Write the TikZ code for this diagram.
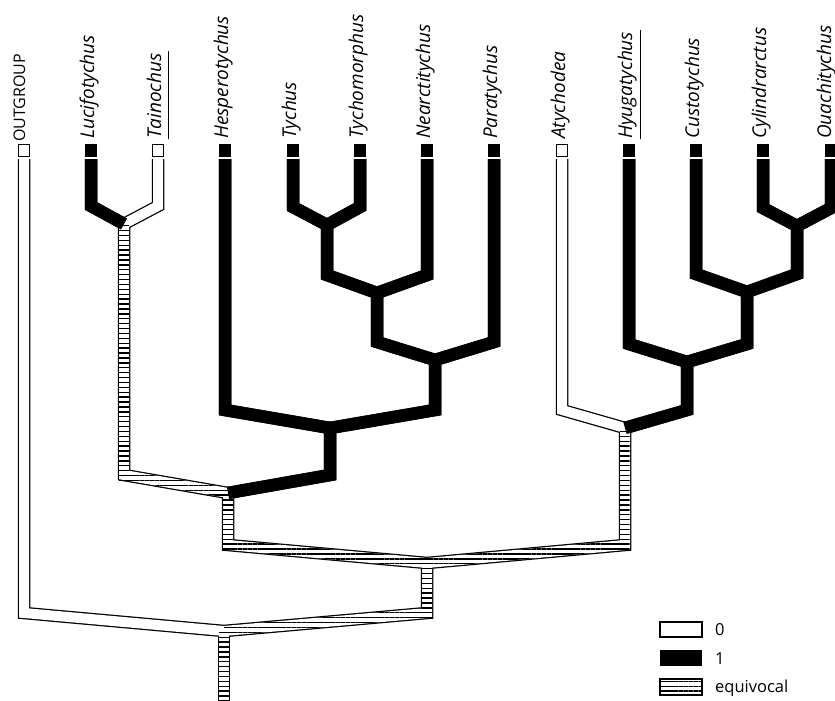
\documentclass[tikz,border=0pt]{standalone}
\usepackage{fontspec}
\setmainfont{Open Sans}
\usetikzlibrary{calc,patterns.meta}

\tikzset{
  outer/.style={line width=12.5pt,line join=miter,black},
  inner/.style={line width=10pt,line join=miter,white},
  hatch/.style={pattern={Lines[angle=0,distance=4.9pt,line width=1.4pt]}},
  taxon/.style={rotate=90,anchor=base west,inner sep=0pt,font=\fontsize{19}{19}\selectfont\itshape},
  tipzero/.style={draw=black,line width=1.2pt,fill=white},
  tipone/.style={fill=black},
  keytext/.style={anchor=west,inner sep=0pt,font=\fontsize{16.5}{16.5}\selectfont},
}
\newcommand{\branch}[3]{\draw[#1] let \p1=(#2), \p2=(#3) in (#2) -- (\x1,\y2+18pt) -- (#3);}
\newcommand{\hatchbranch}[2]{%
  \fill[hatch] let \p1=(#1), \p2=(#2) in (\x1-5pt,\y1) rectangle (\x1+5pt,\y2+13pt);
  \fill[hatch] let \p1=(#1), \p2=(#2) in (\x1,\y2+23pt) -- (\x2,\y2+5pt) -- (\x2,\y2-5pt) -- (\x1,\y2+13pt) -- cycle;}

\begin{document}
\begin{tikzpicture}[x=1pt,y=-1pt]
\useasboundingbox (0,0) rectangle (835,701);
% terminal taxa
\coordinate (og) at (24,159);
\coordinate (luc) at (91,159);
\coordinate (tai) at (158,159);
\coordinate (hes) at (225,159);
\coordinate (tyc) at (293,159);
\coordinate (tym) at (360,159);
\coordinate (nea) at (427,159);
\coordinate (par) at (494,159);
\coordinate (aty) at (562,159);
\coordinate (hyu) at (629,159);
\coordinate (cus) at (696,159);
\coordinate (cyl) at (763,159);
\coordinate (oua) at (831,159);
% internal nodes
\coordinate (n1) at (124,224);
\coordinate (n2) at (327,225);
\coordinate (n3) at (377,293);
\coordinate (n4) at (435,360);
\coordinate (n5) at (330,428);
\coordinate (n6) at (228,493);
\coordinate (n7) at (797,226);
\coordinate (n8) at (747,292);
\coordinate (n9) at (687,362);
\coordinate (n10) at (625,428);
\coordinate (n11) at (427,563);
\coordinate (n12) at (224,631);
\coordinate (base) at (224,706);

% outlines
\foreach \kid/\up in {og/n12,n11/n12,n6/n11,n10/n11,n1/n6,n5/n6,luc/n1,tai/n1,
  hes/n5,n4/n5,n3/n4,par/n4,n2/n3,nea/n3,tyc/n2,tym/n2,
  aty/n10,n9/n10,hyu/n9,n8/n9,cus/n8,n7/n8,cyl/n7,oua/n7}
  {\branch{outer}{\kid}{\up}}
\draw[outer] (n12) -- (base);
% state 0 and equivocal
\foreach \kid/\up in {og/n12,n11/n12,n6/n11,n10/n11,n1/n6,tai/n1,aty/n10}
  {\branch{inner}{\kid}{\up}}
\draw[inner] (n12) -- (base);
\foreach \kid/\up in {n11/n12,n6/n11,n10/n11,n1/n6}
  {\hatchbranch{\kid}{\up}}
\fill[hatch] ($(n12)+(-5,0)$) rectangle ($(base)+(5,0)$);
% state 1
\foreach \kid/\up in {n5/n6,luc/n1,hes/n5,n4/n5,n3/n4,par/n4,n2/n3,nea/n3,tyc/n2,tym/n2,
  n9/n10,hyu/n9,n8/n9,cus/n8,n7/n8,cyl/n7,oua/n7}
  {\branch{outer}{\kid}{\up}}

% tips
\foreach \t in {og,tai,aty}
  \draw[tipzero] ($(\t)+(-5.4,-14.4)$) rectangle ($(\t)+(5.4,-2.6)$);
\foreach \t in {luc,hes,tyc,tym,nea,par,hyu,cus,cyl,oua}
  \fill[tipone] ($(\t)+(-6.2,-15)$) rectangle ($(\t)+(6.2,-2)$);

% names
\node[taxon,font=\fontsize{16}{16}\selectfont] (og-lab) at ($(og)+(1,-17)$) {OUTGROUP};
\node[taxon] (luc-lab) at ($(luc)+(3,-20)$) {Lucifotychus};
\node[taxon] (tai-lab) at ($(tai)+(3,-20)$) {Tainochus};
\node[taxon] (hes-lab) at ($(hes)+(3,-20)$) {Hesperotychus};
\node[taxon] (tyc-lab) at ($(tyc)+(3,-20)$) {Tychus};
\node[taxon] (tym-lab) at ($(tym)+(3,-20)$) {Tychomorphus};
\node[taxon] (nea-lab) at ($(nea)+(3,-20)$) {Nearctitychus};
\node[taxon] (par-lab) at ($(par)+(3,-20)$) {Paratychus};
\node[taxon] (aty-lab) at ($(aty)+(3,-20)$) {Atychodea};
\node[taxon] (hyu-lab) at ($(hyu)+(3,-20)$) {Hyugatychus};
\node[taxon] (cus-lab) at ($(cus)+(3,-20)$) {Custotychus};
\node[taxon] (cyl-lab) at ($(cyl)+(3,-20)$) {Cylindrarctus};
\node[taxon] (oua-lab) at ($(oua)+(0,-20)$) {Ouachitychus};
\draw[line width=1pt] ($(tai-lab.base west)+(7,0)$) -- ($(tai-lab.base east)+(7,-2)$);
\draw[line width=1pt] ($(hyu-lab.base west)+(8,0)$) -- ($(hyu-lab.base east)+(8,-2)$);

% legend
\draw[tipzero] (660,622) rectangle (702,637);
\fill[tipone] (660,650) rectangle (702,666);
\draw[hatch,line width=1.2pt] (660,679) rectangle (702,695);
\node[keytext] (key0) at (715,630) {0};
\node[keytext] (key1) at (715,659) {1};
\node[keytext] (keyeq) at (715,688) {equivocal};
\end{tikzpicture}
\end{document}
